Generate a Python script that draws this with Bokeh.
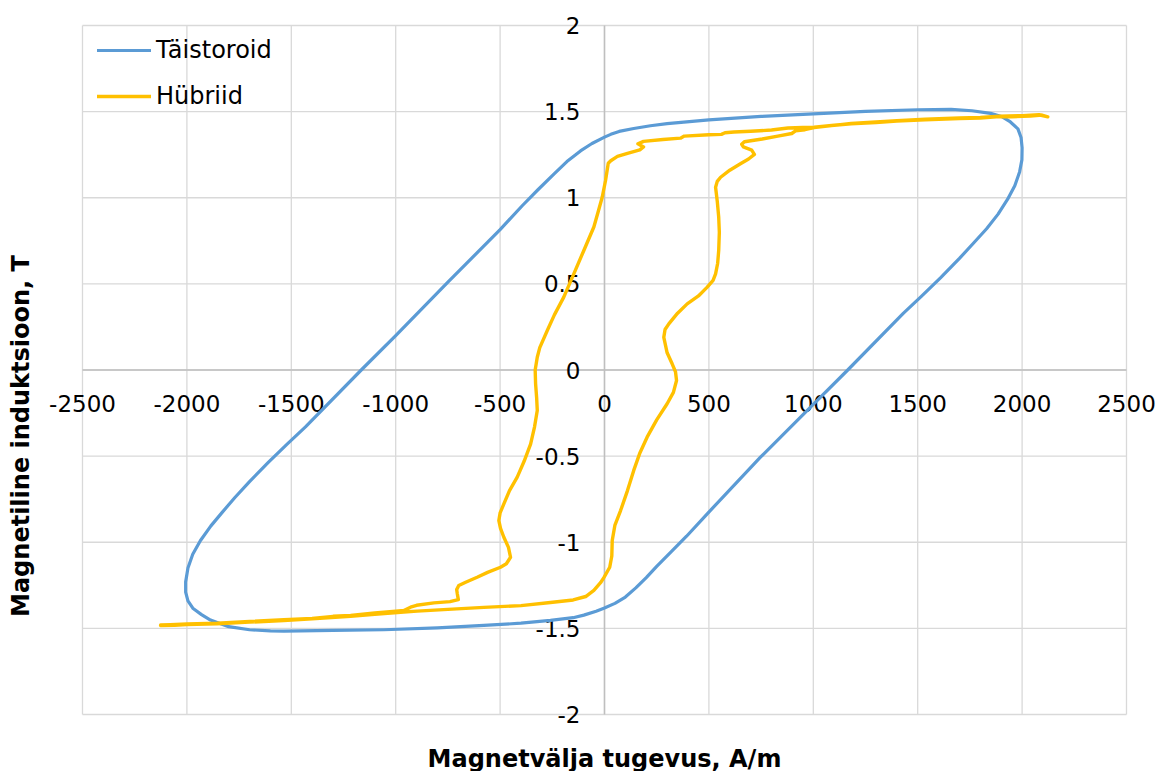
import math
from bokeh.plotting import figure
from bokeh.models import Range1d, Legend, LegendItem
from bokeh.core.properties import value
from bokeh.embed import file_html
from bokeh.resources import INLINE

# ---------------- data ----------------
X_TICKS = [-2500, -2000, -1500, -1000, -500, 0, 500, 1000, 1500, 2000, 2500]
X_LABELS = ["-2500", "-2000", "-1500", "-1000", "-500", "0", "500", "1000", "1500", "2000", "2500"]
Y_TICKS = [-2, -1.5, -1, -0.5, 0, 0.5, 1, 1.5, 2]
Y_LABELS = ["-2", "-1.5", "-1", "-0.5", "0", "0.5", "1", "1.5", "2"]

X_TITLE = "Magnetvälja tugevus, A/m"
Y_TITLE = "Magnetiline induktsioon, T"
SERIES = ["Täistoroid", "Hübriid"]

# Täistoroid loop (H in A/m, B in T)
taist_h = [2000, 1995, 1980, 1944, 1905, 1849, 1760, 1660, 1500, 1250, 1000, 750, 500, 300, 220, 140,
           70, 30, 0, -60, -115, -180, -240, -320, -393, -500, -750, -1000, -1165, -1432, -1520,
           -1609, -1700, -1770, -1830, -1885, -1935, -1972, -1995, -2006, -2006, -1995, -1970, -1930,
           -1887, -1800, -1700, -1600, -1536, -1300, -1057, -800, -578, -400, -259, -150, -99, -40,
           -3, 50, 100, 150, 200, 250, 320, 393, 492, 747, 1000, 1165, 1432, 1520, 1609, 1700, 1770,
           1830, 1885, 1930, 1965, 1988, 1999, 2000]
taist_b = [1.29, 1.35, 1.40, 1.44, 1.47, 1.49, 1.505, 1.513, 1.511, 1.502, 1.487, 1.472, 1.452, 1.43,
           1.418, 1.402, 1.385, 1.368, 1.352, 1.315, 1.272, 1.21, 1.14, 1.045, 0.955, 0.815, 0.51,
           0.2, 0.0, -0.33, -0.43, -0.535, -0.648, -0.74, -0.825, -0.905, -0.99, -1.07, -1.15,
           -1.23, -1.29, -1.34, -1.385, -1.42, -1.452, -1.49, -1.508, -1.515, -1.516, -1.512, -1.508,
           -1.497, -1.483, -1.47, -1.454, -1.438, -1.423, -1.400, -1.383, -1.355, -1.318, -1.265,
           -1.205, -1.14, -1.055, -0.965, -0.835, -0.506, -0.2, 0.0, 0.33, 0.43, 0.535, 0.648, 0.74,
           0.82, 0.905, 0.99, 1.07, 1.15, 1.22, 1.29]

# Hübriid loop (H in A/m, B in T)
hyb_h = [2123, 2095, 2040, 1950, 1892, 1800, 1700, 1536, 1400, 1300, 1181, 1100, 1004, 950, 879, 800,
         700, 620, 577, 560, 500, 382, 364, 280, 187, 160, 187, 169, 110, 62, 30, 18, 5, -11, -30,
         -51, -99, -147, -195, -240, -274, -310, -322, -332, -330, -325, -322, -335, -354, -385, -418,
         -455, -482, -500, -506, -498, -482, -460, -450, -470, -498, -560, -610, -665, -698, -708,
         -705, -700, -740, -817, -900, -929, -961, -1000, -1100, -1216, -1300, -1400, -1536, -1700,
         -1855, -2000, -2080, -2126,
         -2126, -2060, -2000, -1855, -1700, -1536, -1400, -1216, -1100, -961, -897, -750, -578, -400,
         -259, -150, -90, -51, -19, -3, 25, 35, 37, 50, 77, 110, 140, 170, 204, 250, 300, 330, 345,
         340, 324, 300, 284, 290, 308, 350, 396, 450, 492, 520, 532, 542, 547, 550, 547, 540, 532,
         540, 556, 600, 651, 690, 718, 705, 665, 657, 670, 755, 830, 897, 915, 960, 1004, 1181, 1300,
         1400, 1536, 1700, 1800, 1892, 2000, 2080, 2123]
hyb_b = [1.470, 1.480, 1.474, 1.470, 1.472, 1.462, 1.460, 1.452, 1.445, 1.437, 1.430, 1.421, 1.410,
         1.408, 1.405, 1.393, 1.386, 1.382, 1.377, 1.368, 1.366, 1.358, 1.346, 1.338, 1.327, 1.313,
         1.295, 1.278, 1.258, 1.240, 1.215, 1.200, 1.100, 1.003, 0.920, 0.830, 0.694, 0.558, 0.423,
         0.320, 0.229, 0.130, 0.074, 0.000, -0.080, -0.160, -0.235, -0.330, -0.430, -0.530, -0.622,
         -0.700, -0.777, -0.830, -0.874, -0.920, -0.971, -1.030, -1.087, -1.125, -1.145, -1.175,
         -1.203, -1.232, -1.251, -1.275, -1.299, -1.333, -1.345, -1.352, -1.366, -1.377, -1.396,
         -1.400, -1.410, -1.425, -1.430, -1.442, -1.450, -1.460, -1.470, -1.474, -1.478, -1.480,
         -1.484, -1.482, -1.478, -1.473, -1.464, -1.455, -1.445, -1.430, -1.418, -1.405, -1.400,
         -1.390, -1.378, -1.368, -1.350, -1.335, -1.315, -1.280, -1.235, -1.205, -1.145, -1.080,
         -0.990, -0.900, -0.816, -0.700, -0.583, -0.480, -0.390, -0.290, -0.196, -0.130, -0.061,
         -0.010, 0.036, 0.100, 0.190, 0.235, 0.268, 0.330, 0.384, 0.430, 0.481, 0.520, 0.558, 0.620,
         0.694, 0.800, 0.887, 0.980, 1.061, 1.095, 1.119, 1.160, 1.197, 1.225, 1.252, 1.277, 1.295,
         1.310, 1.325, 1.341, 1.358, 1.373, 1.388, 1.395, 1.407, 1.432, 1.440, 1.447, 1.456, 1.463,
         1.466, 1.474, 1.477, 1.482, 1.470]

COLORS = ["#5b9bd5", "#ffc000"]

# ---------------- layout ----------------
W, H = 1156, 771
FL, FR, FT, FB = 82, 1126, 25, 714  # plot-area box in pixels
xmin, xmax = X_TICKS[0], X_TICKS[-1]
ymin, ymax = Y_TICKS[0], Y_TICKS[-1]
kx = (FR - FL) / (xmax - xmin)
ky = (FB - FT) / (ymax - ymin)
x_range = Range1d(xmin - FL / kx, xmax + (W - FR) / kx)
y_range = Range1d(ymin - (H - FB) / ky, ymax + FT / ky)

p = figure(width=W, height=H, x_range=x_range, y_range=y_range, output_backend="svg",
           toolbar_location=None, x_axis_location=None, y_axis_location=None,
           min_border=0, title=None)
p.outline_line_color = None
p.grid.visible = False
p.background_fill_color = "white"
p.border_fill_color = "white"

GRID = "#d9d9d9"
ZERO = "#bfbfbf"
nx, ny = len(X_TICKS), len(Y_TICKS)
p.segment(x0=X_TICKS, y0=[ymin] * nx, x1=X_TICKS, y1=[ymax] * nx, line_color=GRID, line_width=1.3)
p.segment(x0=[xmin] * ny, y0=Y_TICKS, x1=[xmax] * ny, y1=Y_TICKS, line_color=GRID, line_width=1.3)
p.segment(x0=[0], y0=[ymin], x1=[0], y1=[ymax], line_color=ZERO, line_width=1.5)
p.segment(x0=[xmin], y0=[0], x1=[xmax], y1=[0], line_color=ZERO, line_width=1.5)

FONT = value("DejaVu Sans")
p.text(x=X_TICKS, y=[0] * nx, text=X_LABELS, text_align="center", text_baseline="middle",
       y_offset=33, text_font=FONT, text_font_size="23px", text_color="#000000")
p.text(x=[0] * ny, y=Y_TICKS, text=Y_LABELS, text_align="right", text_baseline="middle",
       x_offset=-24, text_font=FONT, text_font_size="23px", text_color="#000000")

p.text(x=[(xmin + xmax) / 2], y=[ymin], text=[X_TITLE], text_align="center", text_baseline="middle",
       y_offset=44, text_font=FONT, text_font_size="24px", text_font_style="bold", text_color="#000000")
p.text(x=[xmin], y=[(ymin + ymax) / 2], text=[Y_TITLE], angle=math.pi / 2, text_align="center",
       text_baseline="middle", x_offset=-62, y_offset=66, text_font=FONT, text_font_size="24px",
       text_font_style="bold", text_color="#000000")

r1 = p.line(taist_h, taist_b, line_color=COLORS[0], line_width=3.2, line_join="round", line_cap="round")
r2 = p.line(hyb_h, hyb_b, line_color=COLORS[1], line_width=3.4, line_join="round", line_cap="round")

legend = Legend(items=[LegendItem(label=SERIES[0], renderers=[r1]),
                       LegendItem(label=SERIES[1], renderers=[r2])],
                location=(97, 661), orientation="vertical",
                background_fill_alpha=0, border_line_color=None,
                label_text_font="DejaVu Sans", label_text_font_size="24px", label_text_color="#000000",
                glyph_width=54, glyph_height=20, label_standoff=5, spacing=18, padding=10, margin=0)
p.add_layout(legend)

open("out.html", "w").write(file_html(p, INLINE))
